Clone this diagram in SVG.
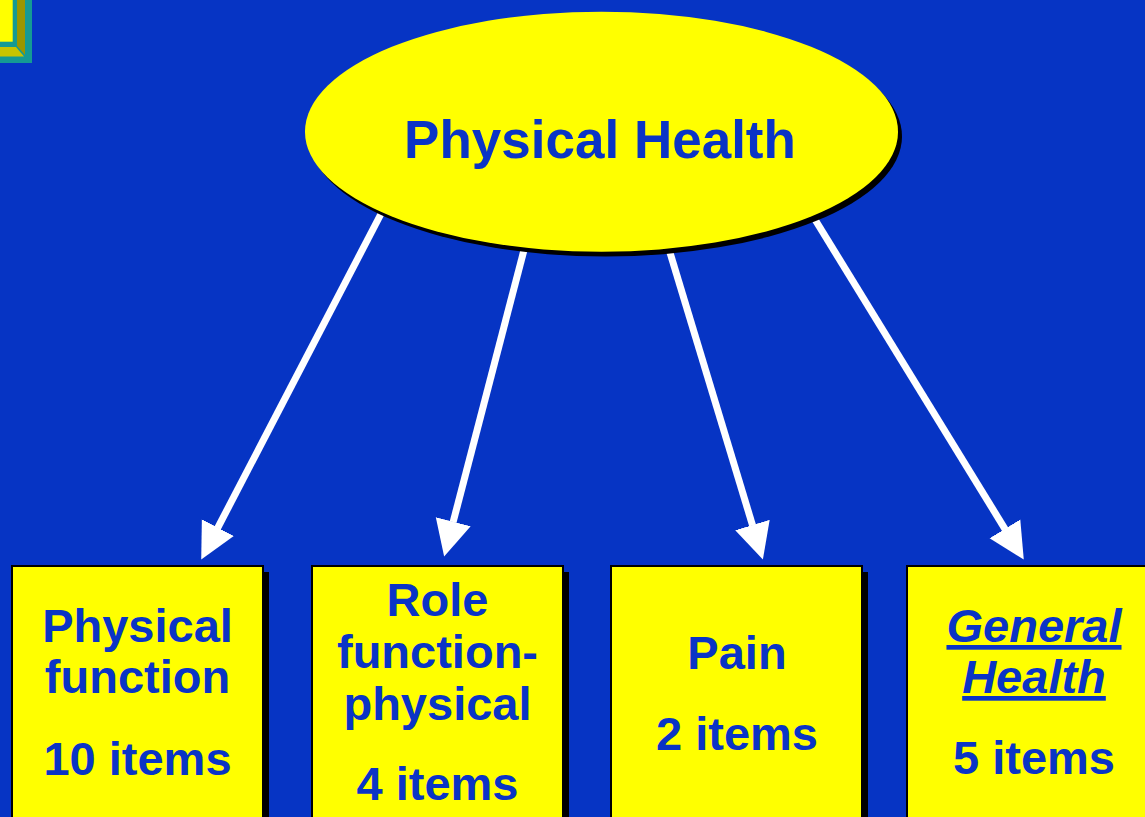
<svg xmlns="http://www.w3.org/2000/svg" width="1145" height="817" viewBox="0 0 1145 817">
  <style>
    .bg { fill: #0634C4; }
    .node { fill: #FFFF00; stroke: #000; stroke-width: 2; }
    .shadow { fill: #000; }
    .lbl { font-family: "Liberation Sans", Arial, sans-serif; font-weight: bold; fill: #0A34C6; text-anchor: middle; }
    .box { font-size: 47px; }
    .conn { stroke: #FFFFFF; stroke-width: 7; fill: none; marker-end: url(#head); }
  </style>
  <defs>
    <marker id="head" markerUnits="userSpaceOnUse" markerWidth="37" markerHeight="37" refX="0.5" refY="18" orient="auto" viewBox="0 0 37 36">
      <path d="M0,0 L36,18 L0,36 z" fill="#FFFFFF"/>
    </marker>
  </defs>
  <rect class="bg" x="0" y="0" width="1145" height="817"/>

  <g id="corner-decoration">
    <rect x="0" y="0" width="32" height="63" fill="#149A94"/>
    <polygon points="17,0 25,0 25,55 17,46" fill="#9A9600"/>
    <polygon points="0,47 16,47 24,56.5 0,56.5" fill="#C8C400"/>
    <rect x="0" y="0" width="12.7" height="41.7" fill="#FFFF00"/>
  </g>

  <g id="connectors">
    <line class="conn" x1="383" y1="210" x2="217.6" y2="528.1"/>
    <line class="conn" x1="524" y1="250" x2="453.1" y2="522.2"/>
    <line class="conn" x1="668" y1="246" x2="752.6" y2="525.5"/>
    <line class="conn" x1="811" y1="213" x2="1005.2" y2="529.3"/>
  </g>

  <g id="physical-health">
    <ellipse class="shadow" cx="605.5" cy="136.5" rx="296.5" ry="120"/>
    <ellipse cx="601.5" cy="131.7" rx="296.5" ry="120" fill="#FFFF00"/>
    <text class="lbl" x="600" y="158" font-size="53">Physical Health</text>
  </g>

  <g id="physical-function">
    <rect class="shadow" x="18" y="572" width="251" height="260"/>
    <rect class="node" x="12" y="566" width="251" height="260"/>
    <text class="lbl box" x="137.5" y="642">Physical</text>
    <text class="lbl box" x="137.5" y="693">function</text>
    <text class="lbl box" x="137.5" y="775">10 items</text>
  </g>

  <g id="role-function-physical">
    <rect class="shadow" x="318" y="572" width="251" height="260"/>
    <rect class="node" x="312" y="566" width="251" height="260"/>
    <text class="lbl box" x="437.5" y="616">Role</text>
    <text class="lbl box" x="437.5" y="668">function-</text>
    <text class="lbl box" x="437.5" y="720">physical</text>
    <text class="lbl box" x="437.5" y="800">4 items</text>
  </g>

  <g id="pain">
    <rect class="shadow" x="617" y="572" width="251" height="260"/>
    <rect class="node" x="611" y="566" width="251" height="260"/>
    <text class="lbl box" x="737" y="669">Pain</text>
    <text class="lbl box" x="737" y="750">2 items</text>
  </g>

  <g id="general-health">
    <rect class="shadow" x="913" y="572" width="251" height="260"/>
    <rect class="node" x="907" y="566" width="251" height="260"/>
    <text class="lbl box" x="1034" y="642" font-style="italic" text-decoration="underline">General</text>
    <text class="lbl box" x="1034" y="693" font-style="italic" text-decoration="underline">Health</text>
    <text class="lbl box" x="1034" y="774">5 items</text>
  </g>
</svg>
